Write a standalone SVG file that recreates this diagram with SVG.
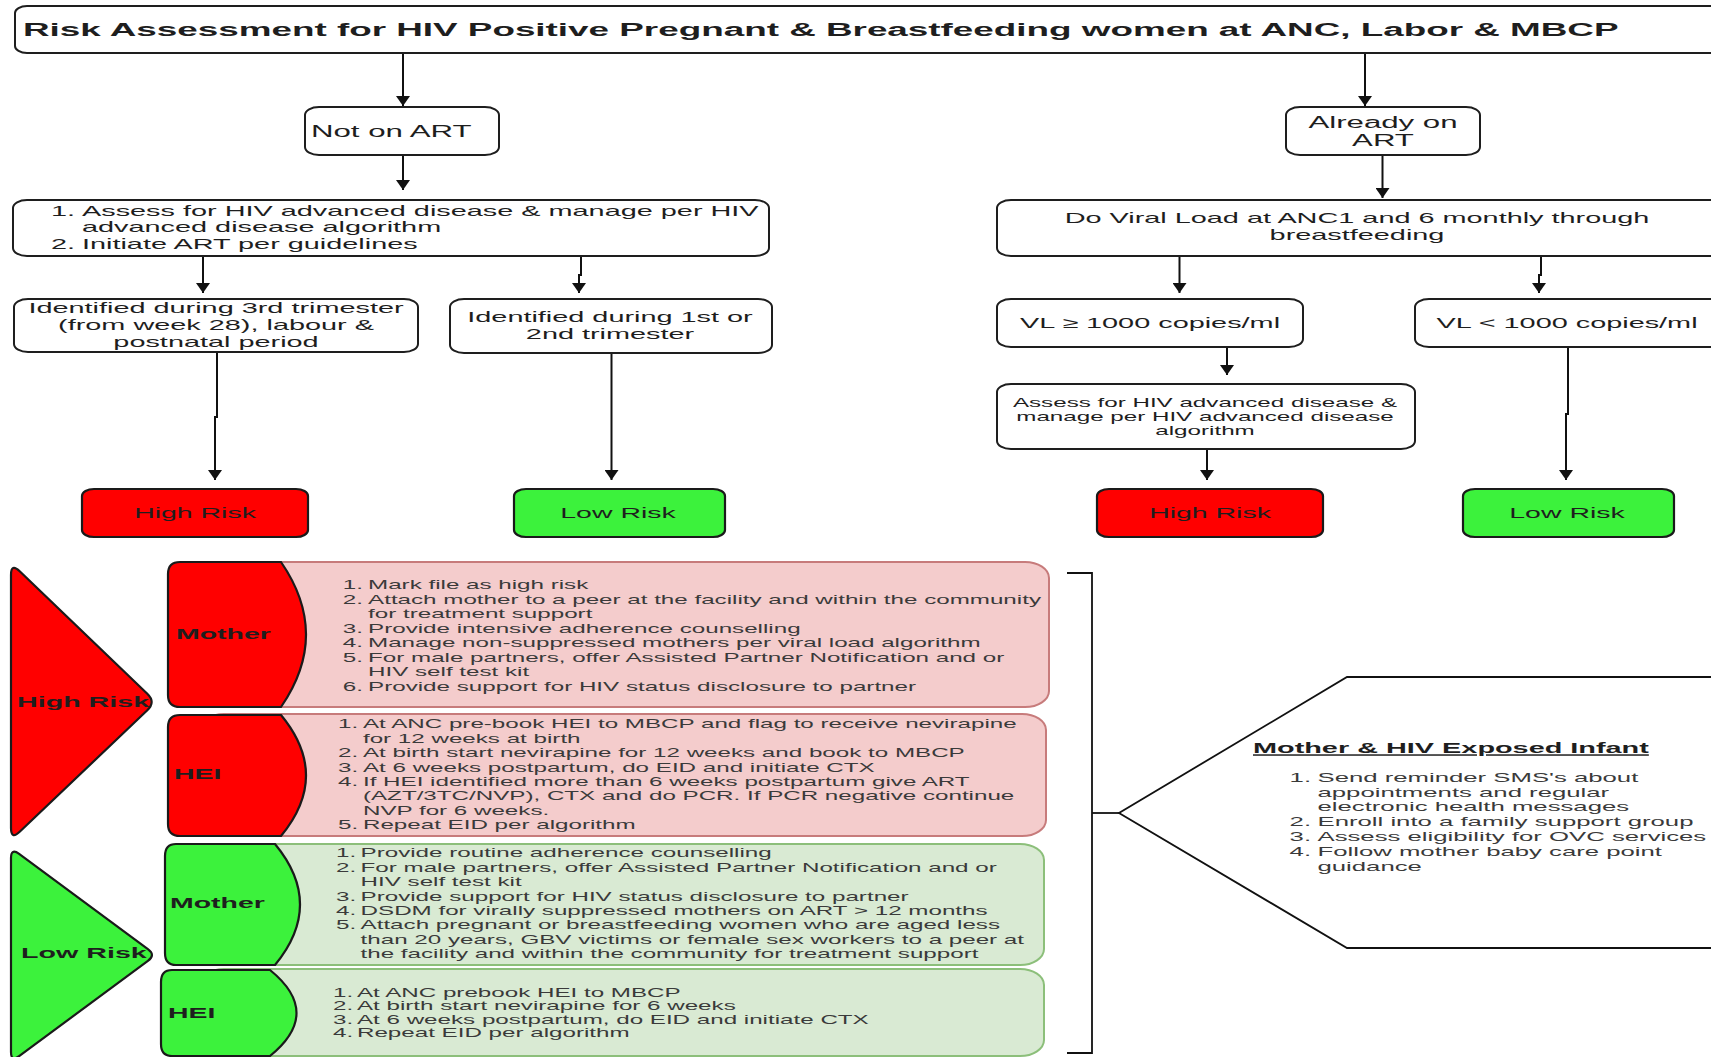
<svg xmlns="http://www.w3.org/2000/svg" width="1711" height="1057" viewBox="0 0 1711 1057">
<style>
.box{fill:#fff;stroke:#1e1e1e;stroke-width:2}
.red{fill:#ff0000;stroke:#1a1a1a;stroke-width:2.2}
.grn{fill:#3cf23c;stroke:#1a1a1a;stroke-width:2.2}
.pink{fill:#f4cccc;stroke:#c77b7b;stroke-width:2}
.lgrn{fill:#d9ead3;stroke:#8cbf7a;stroke-width:2}
.t{font-family:"Liberation Sans",Arial,sans-serif;fill:#1e1e1e}
.g{fill:#3a3a3a}
.b{font-weight:bold}
.conn{stroke:#111;stroke-width:2;fill:none}
.line{stroke:#111;stroke-width:1.8;fill:none}
</style>
<defs>
<marker id="ah" viewBox="0 0 10 14" refX="10" refY="7" markerWidth="10" markerHeight="14" markerUnits="userSpaceOnUse" orient="auto">
<path d="M0,0 L10,7 L0,14 Z" fill="#111"/>
</marker>
</defs>
<rect width="1711" height="1057" fill="#fff"/>

<g id="connectors">
<path class="conn" d="M403,53 V106" marker-end="url(#ah)"/>
<path class="conn" d="M1365,53 V106" marker-end="url(#ah)"/>
<path class="conn" d="M403,155 V190" marker-end="url(#ah)"/>
<path class="conn" d="M1382.5,155 V198" marker-end="url(#ah)"/>
<path class="conn" d="M203,256 V293" marker-end="url(#ah)"/>
<path class="conn" d="M581,256 V275 H579 V293" marker-end="url(#ah)"/>
<path class="conn" d="M1179.5,256 V293" marker-end="url(#ah)"/>
<path class="conn" d="M1541,256 V275 H1539 V293" marker-end="url(#ah)"/>
<path class="conn" d="M217,352 V417 H215 V480" marker-end="url(#ah)"/>
<path class="conn" d="M611.5,353 V480" marker-end="url(#ah)"/>
<path class="conn" d="M1227,347 V375" marker-end="url(#ah)"/>
<path class="conn" d="M1207,449 V480" marker-end="url(#ah)"/>
<path class="conn" d="M1568,347 V414 H1566 V480" marker-end="url(#ah)"/>
<path class="line" d="M1067,573 H1092 V1053 H1067"/>
<path class="line" d="M1092,813 H1120"/>
</g>

<g id="title">
<rect class="box" x="15" y="6" width="1720" height="47" rx="12" ry="7"/>
<text class="t b" font-size="18.9" transform="translate(23,36) scale(1.95,1)">Risk Assessment for HIV Positive Pregnant &amp; Breastfeeding women at ANC, Labor &amp; MBCP</text>
</g>

<g id="not-on-art">
<rect class="box" x="305" y="107" width="194" height="48" rx="14" ry="8"/>
<text class="t" font-size="16" transform="translate(311,137) scale(1.95,1)">Not on ART</text>
</g>

<g id="already-on-art">
<rect class="box" x="1286" y="107" width="194" height="48" rx="14" ry="8"/>
<text class="t" font-size="16" text-anchor="middle" transform="translate(1383,128) scale(1.95,1)"><tspan x="0" y="0">Already on</tspan><tspan x="0" y="18.3">ART</tspan></text>
</g>

<g id="assess-left">
<rect class="box" x="13" y="200" width="756" height="56" rx="14" ry="8"/>
<text class="t" font-size="14.8" transform="translate(51,215.5) scale(1.95,1)"><tspan x="0" y="0">1.</tspan><tspan x="15.9" y="0">Assess for HIV advanced disease &amp; manage per HIV</tspan><tspan x="15.9" y="17">advanced disease algorithm</tspan><tspan x="0" y="34">2.</tspan><tspan x="15.9" y="34">Initiate ART per guidelines</tspan></text>
</g>

<g id="viral-load">
<rect class="box" x="997" y="200" width="730" height="56" rx="14" ry="8"/>
<text class="t" font-size="14.8" text-anchor="middle" fill="#2a2a2a" transform="translate(1357,223) scale(1.95,1)"><tspan x="0" y="0">Do Viral Load at ANC1 and 6 monthly through</tspan><tspan x="0" y="17">breastfeeding</tspan></text>
</g>

<g id="identified-3rd">
<rect class="box" x="14" y="299" width="404" height="53" rx="14" ry="8"/>
<text class="t" font-size="14.8" text-anchor="middle" transform="translate(216,313.3) scale(1.95,1)"><tspan x="0" y="0">Identified during 3rd trimester</tspan><tspan x="0" y="16.7">(from week 28), labour &amp;</tspan><tspan x="0" y="33.4">postnatal period</tspan></text>
</g>

<g id="identified-1st">
<rect class="box" x="450" y="299" width="322" height="54" rx="14" ry="8"/>
<text class="t" font-size="14.8" text-anchor="middle" transform="translate(610,322.3) scale(1.95,1)"><tspan x="0" y="0">Identified during 1st or</tspan><tspan x="0" y="16.7">2nd trimester</tspan></text>
</g>

<g id="vl-high">
<rect class="box" x="997" y="299" width="306" height="48" rx="14" ry="8"/>
<text class="t" font-size="14.8" text-anchor="middle" transform="translate(1150,328) scale(1.95,1)">VL ≥ 1000 copies/ml</text>
</g>

<g id="vl-low">
<rect class="box" x="1415" y="299" width="310" height="48" rx="14" ry="8"/>
<text class="t" font-size="14.8" text-anchor="middle" transform="translate(1567,328) scale(1.95,1)">VL &lt; 1000 copies/ml</text>
</g>

<g id="assess-right">
<rect class="box" x="997" y="384" width="418" height="65" rx="14" ry="8"/>
<text class="t" font-size="12.4" text-anchor="middle" fill="#333" transform="translate(1205,406.7) scale(1.95,1)"><tspan x="0" y="0">Assess for HIV advanced disease &amp;</tspan><tspan x="0" y="14.3">manage per HIV advanced disease</tspan><tspan x="0" y="28.6">algorithm</tspan></text>
</g>

<g id="high-risk-1">
<rect class="red" x="82" y="489" width="226" height="48" rx="12" ry="7"/>
<text class="t" font-size="14.6" text-anchor="middle" fill="#3a0000" transform="translate(195,518) scale(1.95,1)">High Risk</text>
</g>
<g id="low-risk-1">
<rect class="grn" x="514" y="489" width="211" height="48" rx="12" ry="7"/>
<text class="t" font-size="14.6" text-anchor="middle" fill="#0f200f" transform="translate(618,518) scale(1.95,1)">Low Risk</text>
</g>
<g id="high-risk-2">
<rect class="red" x="1097" y="489" width="226" height="48" rx="12" ry="7"/>
<text class="t" font-size="14.6" text-anchor="middle" fill="#3a0000" transform="translate(1210,518) scale(1.95,1)">High Risk</text>
</g>
<g id="low-risk-2">
<rect class="grn" x="1463" y="489" width="211" height="48" rx="12" ry="7"/>
<text class="t" font-size="14.6" text-anchor="middle" fill="#0f200f" transform="translate(1567,518) scale(1.95,1)">Low Risk</text>
</g>

<g id="high-risk-triangle">
<path class="red" stroke-width="2.6" d="M11,575 Q11,563 19.7,571.3 L147.3,693.7 Q156,702 147.3,710.3 L19.7,831.7 Q11,840 11,828 Z"/>
<text class="t b" font-size="14.7" fill="#1a0000" transform="translate(17,707) scale(1.95,1)">High Risk</text>
</g>

<g id="hr-mother">
<rect class="pink" x="200" y="562" width="849" height="145" rx="24" ry="16"/>
<path class="red" d="M180,562 H281 Q331,634.5 281,707 H180 Q168,707 168,695 V574 Q168,562 180,562 Z"/>
<text class="t b" font-size="14.6" fill="#1a0000" transform="translate(176,639) scale(1.95,1)">Mother</text>
<text class="t g" font-size="12.4" transform="translate(342.7,589.3) scale(1.95,1)"><tspan x="0" y="0">1.</tspan><tspan x="13" y="0">Mark file as high risk</tspan><tspan x="0" y="14.53">2.</tspan><tspan x="13" y="14.53">Attach mother to a peer at the facility and within the community</tspan><tspan x="13" y="29.06">for treatment support</tspan><tspan x="0" y="43.59">3.</tspan><tspan x="13" y="43.59">Provide intensive adherence counselling</tspan><tspan x="0" y="58.12">4.</tspan><tspan x="13" y="58.12">Manage non-suppressed mothers per viral load algorithm</tspan><tspan x="0" y="72.65">5.</tspan><tspan x="13" y="72.65">For male partners, offer Assisted Partner Notification and or</tspan><tspan x="13" y="87.18">HIV self test kit</tspan><tspan x="0" y="101.71">6.</tspan><tspan x="13" y="101.71">Provide support for HIV status disclosure to partner</tspan></text>
</g>

<g id="hr-hei">
<rect class="pink" x="200" y="714" width="846" height="122" rx="24" ry="16"/>
<path class="red" d="M180,715 H281 Q331,775.5 281,836 H180 Q168,836 168,824 V727 Q168,715 180,715 Z"/>
<text class="t b" font-size="14.6" fill="#1a0000" transform="translate(174,779) scale(1.95,1)">HEI</text>
<text class="t g" font-size="12.4" transform="translate(338,728.3) scale(1.95,1)"><tspan x="0" y="0">1.</tspan><tspan x="12.8" y="0">At ANC pre-book HEI to MBCP and flag to receive nevirapine</tspan><tspan x="12.8" y="14.43">for 12 weeks at birth</tspan><tspan x="0" y="28.86">2.</tspan><tspan x="12.8" y="28.86">At birth start nevirapine for 12 weeks and book to MBCP</tspan><tspan x="0" y="43.29">3.</tspan><tspan x="12.8" y="43.29">At 6 weeks postpartum, do EID and initiate CTX</tspan><tspan x="0" y="57.72">4.</tspan><tspan x="12.8" y="57.72">If HEI identified more than 6 weeks postpartum give ART</tspan><tspan x="12.8" y="72.15">(AZT/3TC/NVP), CTX and do PCR. If PCR negative continue</tspan><tspan x="12.8" y="86.58">NVP for 6 weeks.</tspan><tspan x="0" y="101.01">5.</tspan><tspan x="12.8" y="101.01">Repeat EID per algorithm</tspan></text>
</g>

<g id="low-risk-triangle">
<path class="grn" stroke-width="2.6" d="M11,858 Q11,848 19.1,853.9 L147.9,949.1 Q156,955 147.9,960.9 L19.1,1056.1 Q11,1062 11,1052 Z"/>
<text class="t b" font-size="14.7" fill="#0a0a0a" transform="translate(21,958) scale(1.95,1)">Low Risk</text>
</g>

<g id="lr-mother">
<rect class="lgrn" x="200" y="844" width="844" height="121" rx="24" ry="16"/>
<path class="grn" d="M176,844 H275 Q325,904.5 275,965 H176 Q165,965 165,953 V856 Q165,844 176,844 Z"/>
<text class="t b" font-size="14.6" fill="#0a0a0a" transform="translate(170,908) scale(1.95,1)">Mother</text>
<text class="t g" font-size="12.4" transform="translate(336,857.3) scale(1.95,1)"><tspan x="0" y="0">1.</tspan><tspan x="12.6" y="0">Provide routine adherence counselling</tspan><tspan x="0" y="14.43">2.</tspan><tspan x="12.6" y="14.43">For male partners, offer Assisted Partner Notification and or</tspan><tspan x="12.6" y="28.86">HIV self test kit</tspan><tspan x="0" y="43.29">3.</tspan><tspan x="12.6" y="43.29">Provide support for HIV status disclosure to partner</tspan><tspan x="0" y="57.72">4.</tspan><tspan x="12.6" y="57.72">DSDM for virally suppressed mothers on ART &gt; 12 months</tspan><tspan x="0" y="72.15">5.</tspan><tspan x="12.6" y="72.15">Attach pregnant or breastfeeding women who are aged less</tspan><tspan x="12.6" y="86.58">than 20 years, GBV victims or female sex workers to a peer at</tspan><tspan x="12.6" y="101.01">the facility and within the community for treatment support</tspan></text>
</g>

<g id="lr-hei">
<rect class="lgrn" x="200" y="969" width="844" height="87" rx="24" ry="16"/>
<path class="grn" d="M172,970 H270 Q323,1013 270,1056 H172 Q161,1056 161,1044 V982 Q161,970 172,970 Z"/>
<text class="t b" font-size="14.6" fill="#0a0a0a" transform="translate(168,1018) scale(1.95,1)">HEI</text>
<text class="t g" font-size="12.4" transform="translate(333,996.7) scale(1.95,1)"><tspan x="0" y="0">1.</tspan><tspan x="12.3" y="0">At ANC prebook HEI to MBCP</tspan><tspan x="0" y="13.5">2.</tspan><tspan x="12.3" y="13.5">At birth start nevirapine for 6 weeks</tspan><tspan x="0" y="27">3.</tspan><tspan x="12.3" y="27">At 6 weeks postpartum, do EID and initiate CTX</tspan><tspan x="0" y="40.5">4.</tspan><tspan x="12.3" y="40.5">Repeat EID per algorithm</tspan></text>
</g>

<g id="mother-hei-panel">
<path class="line" fill="#fff" d="M1730,677 H1347 L1119,813 L1347,948 H1730"/>
<text class="t b" font-size="14.8" text-decoration="underline" transform="translate(1253,753) scale(1.95,1)">Mother &amp; HIV Exposed Infant</text>
<text class="t g" font-size="13.2" transform="translate(1289.6,781.7) scale(1.95,1)"><tspan x="0" y="0">1.</tspan><tspan x="14.3" y="0">Send reminder SMS's about</tspan><tspan x="14.3" y="14.9">appointments and regular</tspan><tspan x="14.3" y="29.8">electronic health messages</tspan><tspan x="0" y="44.7">2.</tspan><tspan x="14.3" y="44.7">Enroll into a family support group</tspan><tspan x="0" y="59.6">3.</tspan><tspan x="14.3" y="59.6">Assess eligibility for OVC services</tspan><tspan x="0" y="74.5">4.</tspan><tspan x="14.3" y="74.5">Follow mother baby care point</tspan><tspan x="14.3" y="89.4">guidance</tspan></text>
</g>
</svg>
